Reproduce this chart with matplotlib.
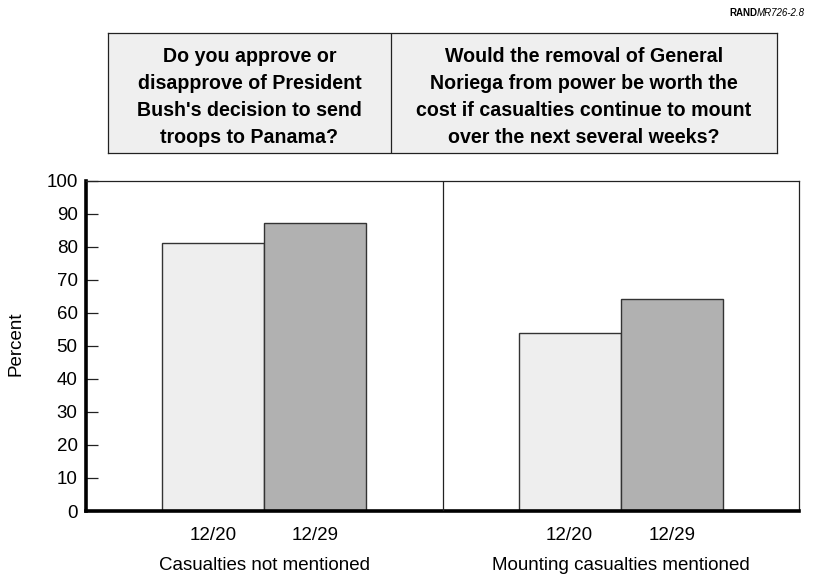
import matplotlib
matplotlib.use("Agg")
import matplotlib.pyplot as plt
import matplotlib.transforms as mtransforms
import numpy as np

plt.rcParams["font.family"] = ["Liberation Sans", "DejaVu Sans"]

# data
groups = ["Casualties not mentioned", "Mounting casualties mentioned"]
dates = ["12/20", "12/29"]
values_1220 = [81, 54]
values_1229 = [87, 64]
questions = [
    "Do you approve or\ndisapprove of President\nBush's decision to send\ntroops to Panama?",
    "Would the removal of General\nNoriega from power be worth the\ncost if casualties continue to mount\nover the next several weeks?",
]
yticks = list(range(0, 101, 10))

light = "#eeeeee"
dark = "#b1b1b1"
edge = "#333333"
fs = 13.5

W, H = 817, 579
fig = plt.figure(figsize=(W / 100, H / 100), dpi=100)

# main axes (pixel layout from the reference)
ax_l, ax_r, ax_t, ax_b = 86, 799, 180.5, 511
ax = fig.add_axes([ax_l / W, 1 - ax_b / H, (ax_r - ax_l) / W, (ax_b - ax_t) / H])

panel = np.arange(len(groups))
bw = 0.2865
x1 = panel + 0.5 - bw / 2
x2 = panel + 0.5 + bw / 2
ax.bar(x1, values_1220, width=bw, color=light, edgecolor=edge, linewidth=1.0, zorder=2)
ax.bar(x2, values_1229, width=bw, color=dark, edgecolor=edge, linewidth=1.0, zorder=2)

ax.set_xlim(0, len(groups))
ax.set_ylim(0, 100)
ax.axvline(1, color="#222222", lw=0.9, zorder=3)

ax.set_yticks(yticks)
ax.set_yticklabels([str(t) for t in yticks], fontsize=fs)
ax.tick_params(axis="y", direction="in", length=8.6, width=0.9, color="#222222", pad=6)

xt = np.concatenate([x1, x2])
xl = [dates[0]] * len(groups) + [dates[1]] * len(groups)
ax.set_xticks(xt)
ax.set_xticklabels(xl, fontsize=fs)
ax.tick_params(axis="x", length=0, pad=11.5)

trans = mtransforms.blended_transform_factory(ax.transData, ax.transAxes)
for i, g in enumerate(groups):
    ax.text(panel[i] + 0.5, -0.165, g, transform=trans, ha="center", va="center", fontsize=fs)

for s in ["left", "bottom"]:
    ax.spines[s].set_linewidth(2.6)
    ax.spines[s].set_color("black")
for s in ["top", "right"]:
    ax.spines[s].set_linewidth(0.9)
    ax.spines[s].set_color("#222222")

fig.text(15.5 / W, 1 - 344 / H, "Percent", rotation=90, ha="center", va="center", fontsize=fs)

# question box
bx_l, bx_r, bx_t, bx_b = 108, 777, 32.7, 153
bax = fig.add_axes([bx_l / W, 1 - bx_b / H, (bx_r - bx_l) / W, (bx_b - bx_t) / H])
bax.set_facecolor("#efefef")
bax.set_xticks([])
bax.set_yticks([])
for s in bax.spines.values():
    s.set_linewidth(0.9)
    s.set_color("#222222")
div = (390.7 - bx_l) / (bx_r - bx_l)
bax.axvline(div, color="#222222", lw=0.9)
bax.set_xlim(0, 1)
bax.set_ylim(0, 1)
for cx, q in zip([div / 2, (div + 1) / 2], questions):
    bax.text(cx, 0.465, q, ha="center", va="center", fontsize=14.1,
             fontweight="bold", linespacing=1.55)

# figure id
t_id = fig.text(805 / W, 1 - 13 / H, "MR726-2.8", ha="right", va="center", fontsize=7,
                style="italic")
fig.canvas.draw()
bb = t_id.get_window_extent()
fig.text(bb.x0 / W, 1 - 13 / H, "RAND", ha="right", va="center", fontsize=7, fontweight="bold")

fig.savefig("out.png", dpi=100)
